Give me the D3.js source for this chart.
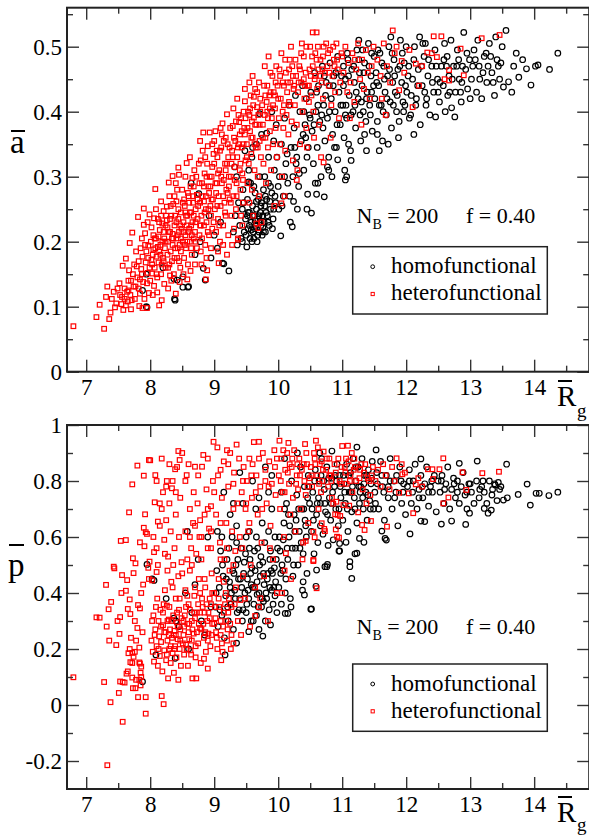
<!DOCTYPE html>
<html><head><meta charset="utf-8">
<script src="https://cdn.jsdelivr.net/npm/d3@7"></script>
<style>
body{margin:0;background:#fff}
svg{display:block}
text{font-family:"Liberation Serif","Tinos","Times New Roman","DejaVu Serif",serif;fill:#000}
</style>
</head><body>
<svg id="chart" width="589" height="836"></svg>
<script>
// Axis ticks
const xTicks = [7, 8, 9, 10, 11, 12, 13, 14];
const xMinorTicks = [7.5, 8.5, 9.5, 10.5, 11.5, 12.5, 13.5, 14.5];
const aTicks = [0, 0.1, 0.2, 0.3, 0.4, 0.5];
const aMinorTicks = [0.05, 0.15, 0.25, 0.35, 0.45, 0.55];
const pTicks = [-0.2, 0, 0.2, 0.4, 0.6, 0.8, 1];
const pMinorTicks = [-0.1, 0.1, 0.3, 0.5, 0.7, 0.9];
const seriesNames = ["homofunctional", "heterofunctional"];
const runLabel = {nb: "200", f: "0.40"};

// Top panel: mean a versus mean Rg, homofunctional runs
const homoA = [
[7.94,.100],[7.95,.099],[8.39,.110],[8.38,.112],[8.59,.130],[8.51,.130],[8.51,.146],[8.37,.143],[7.94,.150],[7.88,.125],[8.60,.131],[8.42,.141],[8.86,.141],[9.23,.155],[9.13,.167],[9.15,.166],[8.83,.159],[8.64,.290],[8.70,.180],[8.78,.200],[8.95,.175],[9.00,.210],[9.05,.190],[8.20,.160],[8.92,.240],[9.10,.230],
[9.30,.215],[9.33,.240],[9.36,.195],[9.38,.260],[9.40,.225],[9.42,.205],[9.44,.250],[9.45,.280],[9.47,.215],[9.49,.235],[9.51,.192],[9.52,.265],[9.53,.220],[9.55,.245],[9.56,.205],[9.57,.290],[9.58,.230],[9.60,.255],[9.61,.215],[9.62,.205],[9.63,.240],[9.64,.275],[9.65,.225],[9.66,.250],[9.67,.200],[9.68,.235],[9.69,.265],[9.70,.215],[9.71,.300],[9.72,.245],[9.73,.225],[9.74,.260],[9.75,.210],[9.76,.240],[9.77,.280],[9.78,.230],[9.79,.255],[9.80,.215],[9.82,.265],[9.83,.240],[9.85,.290],[9.86,.225],[9.88,.250],[9.90,.275],[9.92,.235],[9.94,.310],[9.96,.260],[9.98,.330],[9.54,.310],[9.59,.330],[9.48,.340],[9.35,.300],[9.66,.350],[9.74,.365],
[8.76,.274],[9.32,.315],[9.54,.292],[9.71,.397],[9.82,.367],[9.90,.400],[9.97,.380],[9.60,.345],[9.85,.330],[9.93,.355],
[10.04,.209],[10.22,.223],[10.19,.230],[10.52,.244],[10.45,.250],[10.24,.262],[10.46,.273],[10.60,.273],[10.72,.269],[10.62,.290],[10.79,.310],[10.77,.315],[11.04,.310],[10.93,.326],[11.07,.300],[11.05,.295],
[10.02,.300],[10.05,.350],[10.08,.270],[10.10,.390],[10.12,.320],[10.15,.290],[10.17,.410],[10.20,.345],[10.23,.300],[10.25,.375],[10.27,.425],[10.29,.330],[10.32,.285],[10.34,.400],[10.36,.355],[10.38,.440],[10.40,.310],[10.42,.380],[10.44,.420],[10.47,.345],[10.49,.395],[10.06,.255],[10.30,.250],
[10.51,.430],[10.53,.370],[10.55,.320],[10.57,.460],[10.59,.400],[10.61,.345],[10.63,.440],[10.65,.385],[10.67,.300],[10.69,.470],[10.71,.410],[10.73,.355],[10.75,.445],[10.77,.390],[10.79,.330],[10.81,.475],[10.83,.420],[10.85,.365],[10.87,.455],[10.89,.400],[10.91,.345],[10.93,.485],[10.95,.430],[10.97,.380],[10.99,.455],[10.58,.290],[10.84,.300],
[11.01,.410],[11.03,.360],[11.05,.450],[11.07,.390],[11.09,.480],[11.11,.425],[11.13,.340],[11.15,.465],[11.17,.400],[11.19,.445],[11.21,.375],[11.23,.495],[11.25,.420],[11.27,.460],[11.29,.355],[11.31,.440],[11.33,.400],[11.35,.475],[11.37,.385],[11.39,.430],[11.41,.505],[11.43,.410],[11.45,.455],[11.47,.370],[11.49,.440],[11.14,.325],[11.38,.340],[11.46,.490],[11.02,.470],[11.26,.510],
[11.51,.420],[11.53,.460],[11.55,.385],[11.57,.440],[11.59,.490],[11.61,.410],[11.63,.355],[11.65,.470],[11.67,.430],[11.69,.395],[11.71,.455],[11.73,.500],[11.75,.415],[11.77,.375],[11.79,.445],[11.81,.480],[11.83,.430],[11.85,.400],[11.87,.465],[11.89,.385],[11.91,.510],[11.93,.445],[11.95,.415],[11.97,.475],[11.99,.440],[11.58,.340],[11.72,.350],[11.88,.360],
[12.01,.430],[12.04,.470],[12.07,.395],[12.10,.450],[12.13,.500],[12.16,.420],[12.19,.465],[12.22,.380],[12.25,.440],[12.28,.485],[12.31,.410],[12.34,.455],[12.37,.395],[12.40,.470],[12.43,.430],[12.46,.392],[12.49,.450],[12.12,.365],[12.30,.505],[12.21,.515],[12.05,.390],
[12.52,.415],[12.55,.470],[12.58,.440],[12.61,.400],[12.64,.485],[12.67,.455],[12.71,.406],[12.74,.470],[12.77,.430],[12.80,.495],[12.83,.450],[12.86,.415],[12.90,.522],[12.93,.465],[12.96,.435],[12.99,.480],[12.60,.505],[12.76,.392],[12.88,.470],[12.70,.510],
[13.02,.450],[13.06,.495],[13.10,.430],[13.14,.470],[13.18,.420],[13.22,.485],[13.26,.445],[13.30,.505],[13.34,.460],[13.38,.425],[13.42,.480],[13.46,.450],[13.50,.500],[13.12,.510],[13.28,.470],[13.40,.515],[13.52,.438],[13.56,.525],[13.60,.446],
[13.76,.453],[13.88,.466],[13.95,.441],[14.02,.470],[14.06,.472],[14.24,.465],[14.37,.490],[13.68,.470],[13.72,.490],[13.82,.480],[13.65,.430],
[11.02,.440],[11.06,.410],[11.10,.455],[11.14,.395],[11.18,.470],[11.22,.430],[11.26,.480],[11.30,.415],[11.34,.460],[11.38,.420],[11.42,.470],[11.46,.430],[11.50,.485],[11.54,.445],[11.58,.410],[11.62,.475],[11.66,.450],[11.70,.420],[11.74,.465],[11.78,.490],[11.82,.455],[11.86,.425],[11.90,.470],[11.94,.490],[11.98,.410],[12.03,.455],[12.08,.425],[12.12,.480],[12.18,.440],[12.24,.470],[12.29,.430],[12.35,.480],[12.41,.445],[12.47,.470],[12.53,.445],[12.59,.480],[12.65,.425],[12.72,.450],[12.79,.470],[12.87,.445],[12.95,.490],[13.04,.470],[13.15,.450],[13.25,.490],[13.36,.445],
[9.58,.218],[9.64,.232],[9.70,.240],[9.76,.222],[9.81,.245],[9.87,.262],[9.93,.250],[9.52,.240],[9.46,.260],[9.62,.285],[9.79,.300],[10.00,.285],[10.14,.335],[10.26,.345],[10.39,.365],[10.50,.390],[10.62,.410],[10.74,.425],[10.86,.440],[10.98,.410],[10.70,.375],[10.45,.330],[10.33,.305],[10.18,.270],[10.88,.345],[11.10,.350],[11.35,.365],[11.55,.365],
[9.44,.200],[9.50,.210],[9.55,.225],[9.59,.200],[9.63,.220],[9.68,.210],[9.72,.230],[9.77,.215],[9.84,.230],[9.91,.220],[9.53,.245],[9.60,.240],[9.66,.262],[9.73,.255],[9.80,.270],[9.88,.285],[9.95,.270],[10.01,.250],[10.10,.300],[10.28,.320],[10.43,.360],[10.56,.380],[10.68,.395],[10.80,.400],[10.92,.380],[11.05,.395],[11.20,.410],[11.28,.395],[11.44,.395],[11.64,.400],[11.80,.410],[11.96,.400],[12.15,.410],[12.32,.420],[12.50,.430],[12.68,.430],[12.85,.430],[13.00,.420],[13.20,.460],[13.44,.470],[11.08,.490],[11.32,.495],[11.56,.495],[11.76,.515],[12.00,.500],[12.26,.505],[12.45,.495],[12.63,.470],[12.82,.480],[13.08,.480],[13.32,.485],[13.48,.475],[10.40,.400],[10.60,.430],[10.80,.440],[10.90,.460],[10.72,.455]
];

// Top panel: heterofunctional runs
const heteroA = [
[6.80,.070],[7.16,.084],[7.28,.066],[7.36,.081],[7.21,.103],[7.33,.131],[7.38,.091],[7.31,.115],[7.43,.123],[7.47,.105],[7.45,.099],[7.40,.112],[7.49,.128],
[7.52,.136],[7.56,.115],[7.58,.095],[7.64,.123],[7.57,.163],[7.62,.174],[7.68,.198],[7.72,.214],[7.67,.156],[7.71,.110],[7.55,.104],[7.60,.128],[7.66,.140],[7.70,.096],[7.62,.102],[7.74,.131],[7.53,.118],[7.69,.118],[7.73,.150],[7.65,.108],
[7.77,.131],[7.79,.162],[7.81,.238],[7.90,.251],[7.92,.213],[7.97,.194],[7.99,.242],[7.83,.101],[7.95,.098],[7.88,.177],[7.95,.136],[7.78,.185],[7.80,.145],[7.84,.120],[7.86,.158],[7.87,.205],[7.89,.138],[7.91,.112],[7.93,.168],[7.96,.152],[7.98,.121],[7.82,.170],[7.85,.190],[7.94,.185],[7.99,.160],[7.76,.112],[7.88,.098],[7.97,.175],[7.90,.226],[7.84,.142],
[8.06,.236],[8.08,.281],[8.03,.151],[8.10,.177],[8.15,.218],[8.04,.118],[8.18,.110],[8.01,.200],[8.02,.172],[8.05,.188],[8.07,.160],[8.09,.205],[8.11,.145],[8.12,.192],[8.13,.168],[8.14,.230],[8.16,.180],[8.17,.150],[8.19,.200],[8.20,.175],[8.21,.215],[8.22,.135],[8.23,.190],[8.24,.160],[8.11,.122],[8.06,.132],[8.14,.102],[8.21,.247],[8.17,.262],[8.02,.222],[8.09,.250],[8.24,.225],[8.13,.208],[8.19,.228],[8.04,.180],[8.16,.195],
[8.26,.254],[8.26,.233],[8.29,.291],[8.35,.301],[8.40,.290],[8.44,.314],[8.45,.303],[8.27,.180],[8.28,.200],[8.30,.165],[8.31,.215],[8.32,.185],[8.33,.240],[8.34,.170],[8.36,.205],[8.37,.150],[8.38,.225],[8.39,.190],[8.41,.262],[8.42,.175],[8.43,.210],[8.44,.235],[8.46,.195],[8.47,.160],[8.48,.245],[8.49,.220],[8.28,.128],[8.33,.140],[8.40,.120],[8.46,.138],[8.30,.270],[8.36,.258],[8.42,.280],[8.27,.222],[8.35,.212],[8.43,.190],[8.48,.205],[8.39,.240],[8.31,.148],[8.45,.170],
[8.50,.280],[8.57,.321],[8.69,.310],[8.51,.200],[8.52,.230],[8.53,.175],[8.54,.255],[8.55,.210],[8.56,.190],[8.58,.240],[8.59,.165],[8.60,.270],[8.61,.220],[8.62,.200],[8.63,.285],[8.64,.245],[8.65,.180],[8.66,.230],[8.67,.260],[8.68,.205],[8.70,.215],[8.71,.250],[8.72,.300],[8.73,.190],[8.74,.235],[8.52,.150],[8.58,.142],[8.63,.155],[8.70,.165],[8.55,.300],[8.62,.330],[8.66,.298],[8.53,.265],[8.60,.215],[8.67,.270],[8.73,.272],[8.57,.225],[8.64,.190],
[8.76,.320],[8.82,.340],[8.83,.368],[8.90,.347],[8.93,.368],[8.77,.210],[8.78,.260],[8.79,.185],[8.80,.240],[8.81,.290],[8.84,.225],[8.85,.305],[8.86,.195],[8.87,.270],[8.88,.230],[8.89,.320],[8.91,.250],[8.92,.210],[8.94,.285],[8.95,.240],[8.96,.300],[8.97,.220],[8.98,.265],[8.99,.335],[8.80,.165],[8.88,.175],[8.95,.190],[8.78,.355],[8.86,.330],[8.84,.262],[8.92,.275],[8.97,.315],
[9.02,.370],[9.12,.365],[9.13,.382],[9.20,.396],[9.01,.250],[9.03,.215],[9.04,.290],[9.05,.330],[9.06,.235],[9.07,.270],[9.08,.310],[9.09,.200],[9.10,.255],[9.11,.345],[9.14,.225],[9.15,.295],[9.16,.260],[9.17,.320],[9.18,.240],[9.19,.280],[9.21,.350],[9.22,.210],[9.23,.300],[9.24,.265],[9.06,.185],[9.14,.195],[9.20,.180],[9.10,.375],[9.18,.360],[9.04,.340],[9.22,.330],
[9.29,.378],[9.38,.395],[9.46,.400],[9.39,.384],[9.48,.416],[9.26,.300],[9.27,.240],[9.28,.340],[9.30,.270],[9.31,.220],[9.32,.315],[9.33,.355],[9.34,.250],[9.35,.290],[9.36,.330],[9.37,.205],[9.40,.365],[9.41,.280],[9.42,.240],[9.43,.345],[9.44,.305],[9.45,.260],[9.47,.375],[9.49,.325],[9.30,.405],[9.36,.420],[9.42,.390],[9.28,.195],[9.44,.225],
[9.62,.391],[9.67,.407],[9.51,.350],[9.52,.290],[9.53,.400],[9.54,.320],[9.55,.260],[9.56,.370],[9.57,.425],[9.58,.335],[9.59,.280],[9.60,.360],[9.61,.240],[9.63,.310],[9.64,.435],[9.65,.345],[9.66,.380],[9.68,.300],[9.69,.395],[9.70,.270],[9.71,.355],[9.72,.420],[9.73,.330],[9.74,.230],[9.55,.445],[9.60,.455],[9.70,.445],[9.48,.435],[9.62,.423],
[9.82,.415],[9.76,.380],[9.77,.320],[9.78,.440],[9.80,.360],[9.81,.290],[9.83,.400],[9.84,.345],[9.86,.425],[9.87,.370],[9.88,.460],[9.89,.310],[9.90,.390],[9.92,.350],[9.93,.430],[9.94,.255],[9.95,.405],[9.96,.375],[9.97,.470],[9.98,.330],[9.79,.470],[9.85,.485],
[10.02,.465],[10.18,.480],[10.20,.500],[10.01,.390],[10.03,.350],[10.04,.420],[10.06,.300],[10.07,.445],[10.08,.375],[10.09,.410],[10.11,.340],[10.12,.460],[10.13,.395],[10.14,.430],[10.16,.365],[10.17,.415],[10.19,.445],[10.21,.385],[10.22,.470],[10.23,.325],[10.24,.435],[10.05,.490],[10.10,.270],
[10.50,.500],[10.26,.410],[10.28,.455],[10.29,.380],[10.31,.430],[10.33,.470],[10.34,.350],[10.36,.445],[10.38,.400],[10.40,.485],[10.41,.420],[10.43,.460],[10.44,.375],[10.46,.440],[10.48,.415],[10.49,.465],[10.30,.310],[10.37,.505],[10.45,.345],
[10.60,.522],[10.52,.425],[10.54,.470],[10.55,.400],[10.57,.450],[10.58,.490],[10.61,.435],[10.63,.465],[10.64,.380],[10.66,.480],[10.68,.445],[10.70,.420],[10.71,.500],[10.73,.460],[10.56,.360],[10.67,.330],[10.54,.522],
[10.77,.470],[10.79,.440],[10.81,.495],[10.83,.410],[10.85,.455],[10.87,.480],[10.89,.430],[10.91,.505],[10.93,.465],[10.95,.390],[10.97,.445],[10.99,.490],[10.82,.360],
[11.02,.460],[11.05,.500],[11.08,.430],[11.10,.475],[11.13,.445],[11.16,.490],[11.19,.415],[11.22,.465],[11.25,.505],[11.28,.450],[11.31,.480],[11.34,.435],[11.37,.495],[11.40,.460],[11.43,.420],[11.46,.470],[11.49,.500],[11.12,.390],[11.30,.380],
[11.79,.525],[11.85,.500],[11.93,.478],[11.89,.433],[11.55,.480],[11.60,.455],[11.65,.505],[11.70,.470],[11.75,.445],[11.82,.490],[11.97,.460],[11.62,.420],[11.68,.395],
[12.10,.407],[12.15,.474],[12.43,.516],[12.55,.516],[12.40,.490],[12.48,.484],[12.33,.491],[12.67,.464],[12.60,.450],[12.67,.448],[12.90,.456],[12.85,.497],[13.18,.513],[13.46,.518],[12.05,.495],[12.25,.470],[12.20,.440],
[10.71,.322],[10.29,.295],[10.05,.259],[9.69,.221],[9.66,.228],[9.37,.203],[9.07,.167],[8.89,.156],[8.87,.142],
[8.05,.210],[8.08,.190],[8.12,.235],[8.18,.165],[8.22,.205],[8.25,.240],[8.29,.215],[8.32,.255],[8.35,.195],[8.38,.270],[8.41,.205],[8.44,.250],[8.47,.225],[8.51,.260],[8.54,.195],[8.56,.240],[8.59,.275],[8.62,.245],[8.65,.210],[8.68,.285],[8.71,.230],[8.74,.265],[8.77,.290],[8.79,.225],[8.82,.270],[8.85,.245],[8.88,.300],[8.91,.285],[8.94,.255],[8.97,.350],[9.00,.320],[9.03,.275],[9.06,.305],[9.09,.340],[9.12,.290],[9.15,.355],[9.18,.310],[9.21,.275],[9.24,.345],[9.27,.320],[9.31,.360],[9.34,.385],[9.37,.345],[9.40,.310],[9.43,.370],[9.46,.350],[9.49,.390],[9.52,.375],[9.56,.405],[9.59,.385],[9.63,.350],[9.67,.430],[9.71,.380],[9.75,.410],[9.79,.395],[9.83,.440],[9.87,.405],[9.91,.455],[9.95,.425],[9.99,.440],[10.03,.455],[10.07,.400],[10.11,.480],[10.15,.445],[10.19,.410],[10.23,.455],[10.27,.480],[10.32,.445],[10.36,.490],[10.40,.450],[10.44,.500],[10.48,.440],[10.53,.485],[10.58,.455],[10.62,.500],[10.66,.455],[10.70,.485],[10.75,.505],[10.80,.460],[10.86,.500],[10.92,.480],[7.70,.140],[7.75,.165],[7.82,.128],[7.87,.150],[7.92,.195],[7.96,.230],[8.00,.140],[7.60,.112],[7.66,.125],
[8.03,.165],[8.07,.205],[8.10,.150],[8.14,.185],[8.17,.240],[8.21,.170],[8.24,.200],[8.28,.160],[8.31,.235],[8.34,.205],[8.38,.175],[8.41,.230],[8.45,.215],[8.48,.185],[8.52,.215],[8.55,.245],[8.58,.200],[8.61,.260],[8.64,.225],[8.68,.240],[8.71,.200],[8.75,.255],[8.78,.225],[8.81,.205],[8.84,.285],[8.87,.250],[8.90,.215],[8.93,.300],[8.96,.265],[8.99,.230],[9.02,.290],[9.05,.255],[9.08,.225],[9.11,.300],[9.14,.270],[9.17,.245],[9.20,.320],[9.23,.285],[9.26,.260],[9.29,.330],[9.32,.295],[9.35,.270],[9.38,.350],[9.41,.320],[9.45,.295],[9.48,.365],[9.51,.330],[9.55,.395],[9.58,.360],[9.61,.410],[9.64,.380],[9.68,.345],[9.72,.400],[9.76,.360],[9.80,.425],[9.84,.390],[9.88,.430],[9.92,.410],[9.96,.445],[10.00,.420],[10.09,.440],[10.17,.465],[10.25,.440],[10.34,.465],[10.42,.440],[10.51,.455],[10.60,.480],[10.69,.465],[10.78,.490],[10.88,.470],[11.00,.485],[11.20,.480],[8.79,.325],[9.00,.355],[9.25,.375]
];

// Bottom panel: mean p versus mean Rg, homofunctional runs
const homoP = [
[7.88,.083],[7.95,.502],[8.03,.450],[8.06,.445],[8.09,.179],[8.37,.310],[8.40,.300],[8.39,.167],[8.25,.380],[8.45,.280],[8.55,.400],[8.60,.200],[8.70,.430],[8.65,.330],[8.80,.300],[8.85,.250],[8.75,.520],[8.90,.600],[8.95,.350],[8.58,.620],
[9.17,.179],[9.35,.221],[9.54,.262],[9.76,.246],[9.88,.286],[10.11,.327],[10.15,.327],[10.52,.343],[10.51,.342],[10.59,.424],[10.76,.494],[10.73,.494],[10.96,.550],[11.15,.452],[11.12,.512],[11.12,.494],[11.20,.540],[11.23,.542],[10.77,.502],[10.60,.482],[10.39,.440],[10.38,.410],[10.41,.393],[10.96,.577],[10.95,.550],[11.06,.581],[11.27,.595],[11.34,.581],[11.67,.595],[11.69,.589],[11.62,.621],[12.06,.611],[12.29,.655],[12.23,.657],[12.55,.646],[12.71,.657],[12.93,.645],[12.99,.685],[13.28,.685],[13.33,.696],[13.22,.702],[13.52,.732],[13.58,.740],[13.75,.752],[13.89,.789],[13.94,.714],[14.03,.756],[14.08,.756],[14.23,.748],[14.37,.760],[13.57,.860],[13.11,.871],[12.83,.863],[12.23,.879],[11.53,.911],[11.23,.921],[10.84,.907],
[9.02,.350],[9.04,.480],[9.06,.280],[9.08,.420],[9.10,.550],[9.12,.320],[9.14,.460],[9.16,.240],[9.18,.390],[9.20,.520],[9.22,.300],[9.24,.440],[9.26,.360],[9.28,.600],[9.30,.270],[9.32,.410],[9.34,.500],[9.36,.330],[9.38,.450],[9.40,.380],[9.42,.560],[9.44,.300],[9.46,.470],[9.48,.400],[9.05,.620],[9.25,.680],[9.45,.720],[9.15,.760],[9.35,.640],[9.40,.830],
[9.50,.330],[9.52,.450],[9.54,.380],[9.56,.520],[9.58,.300],[9.60,.420],[9.62,.360],[9.64,.480],[9.66,.320],[9.68,.560],[9.70,.400],[9.72,.460],[9.74,.350],[9.76,.510],[9.78,.430],[9.80,.300],[9.82,.380],[9.84,.470],[9.86,.340],[9.88,.550],[9.90,.410],[9.92,.360],[9.94,.490],[9.96,.440],[9.98,.330],[9.55,.620],[9.65,.700],[9.75,.650],[9.85,.760],[9.95,.600],[9.60,.800],[9.80,.850],[9.70,.270],[9.90,.700],[9.58,.430],[9.67,.395],[9.77,.370],[9.87,.420],
[10.01,.420],[10.03,.550],[10.05,.360],[10.07,.480],[10.09,.650],[10.11,.400],[10.13,.720],[10.15,.520],[10.17,.600],[10.19,.380],[10.21,.800],[10.23,.460],[10.25,.680],[10.27,.560],[10.29,.750],[10.31,.500],[10.33,.620],[10.35,.850],[10.37,.700],[10.39,.540],[10.41,.780],[10.43,.640],[10.45,.470],[10.47,.820],[10.49,.720],[10.10,.880],[10.30,.900],[10.20,.350],
[10.52,.620],[10.54,.760],[10.56,.540],[10.58,.840],[10.60,.680],[10.62,.580],[10.64,.800],[10.66,.720],[10.68,.880],[10.70,.610],[10.72,.770],[10.74,.690],[10.76,.850],[10.78,.570],[10.80,.740],[10.82,.660],[10.84,.810],[10.86,.590],[10.88,.780],[10.90,.700],[10.92,.860],[10.94,.640],[10.96,.820],[10.98,.740],[10.65,.900],
[11.01,.660],[11.03,.790],[11.05,.720],[11.07,.860],[11.09,.620],[11.11,.760],[11.13,.830],[11.15,.690],[11.17,.880],[11.19,.740],[11.21,.800],[11.23,.650],[11.25,.850],[11.27,.720],[11.29,.780],[11.31,.880],[11.33,.700],[11.35,.820],[11.37,.760],[11.39,.660],[11.41,.840],[11.43,.730],[11.45,.790],[11.47,.870],[11.49,.700],
[11.51,.760],[11.54,.830],[11.57,.700],[11.60,.870],[11.63,.780],[11.66,.660],[11.69,.820],[11.72,.740],[11.75,.880],[11.78,.700],[11.81,.800],[11.84,.760],[11.87,.640],[11.90,.850],[11.93,.720],[11.96,.790],[11.99,.680],
[12.02,.780],[12.05,.840],[12.08,.720],[12.11,.800],[12.14,.860],[12.17,.700],[12.20,.770],[12.23,.820],[12.26,.740],[12.29,.790],[12.32,.850],[12.35,.710],[12.38,.780],[12.41,.760],[12.44,.820],[12.47,.690],[12.50,.800],
[12.53,.760],[12.56,.820],[12.59,.720],[12.62,.790],[12.65,.850],[12.68,.700],[12.71,.770],[12.74,.810],[12.77,.740],[12.80,.800],[12.83,.720],[12.86,.780],[12.89,.830],[12.92,.750],[12.95,.700],[12.98,.790],
[13.02,.760],[13.06,.720],[13.10,.800],[13.14,.740],[13.18,.780],[13.22,.760],[13.26,.720],[13.30,.800],[13.34,.750],[13.38,.790],[13.42,.730],[13.46,.770],[13.39,.786],[13.44,.795],[13.48,.780],
[9.21,.350],[9.25,.420],[9.29,.480],[9.33,.380],[9.37,.520],[9.41,.450],[9.45,.340],[9.49,.540],[9.53,.410],[9.57,.470],[9.61,.300],[9.63,.550],[9.67,.440],[9.71,.500],[9.75,.380],[9.79,.580],[9.83,.450],[9.87,.520],[9.91,.470],[9.95,.390],[9.99,.560],[10.04,.470],[10.08,.590],[10.12,.450],[10.16,.680],[10.22,.560],[10.26,.620],[10.32,.700],[10.36,.580],[10.42,.660],[10.46,.740],[10.53,.700],[10.57,.800],[10.63,.740],[10.67,.820],[10.73,.720],[10.79,.810],[10.85,.760],[10.91,.800],[10.97,.780],[11.04,.760],[11.10,.820],[11.16,.780],[11.22,.850],[11.28,.760],[11.34,.790],[11.40,.750],[11.46,.810],[11.55,.790],[11.65,.760],[11.75,.800],[11.85,.820],[11.95,.760],[12.10,.760],[12.25,.780],[12.40,.800],[12.60,.770],[12.80,.760],[13.00,.790],[13.20,.800],[9.12,.600],[9.30,.720],[9.50,.600],[9.70,.740],[9.90,.820],[10.05,.760],
[9.03,.400],[9.09,.340],[9.13,.500],[9.19,.450],[9.23,.560],[9.27,.400],[9.31,.470],[9.35,.580],[9.39,.340],[9.43,.420],[9.47,.510],[9.51,.360],[9.55,.560],[9.59,.490],[9.63,.420],[9.66,.600],[9.69,.350],[9.73,.530],[9.77,.470],[9.81,.400],[9.85,.620],[9.89,.480],[9.93,.420],[9.97,.520],[10.02,.600],[10.06,.500],[10.10,.700],[10.14,.560],[10.18,.640],[10.24,.500],[10.28,.660],[10.34,.560],[10.40,.700],[10.44,.600],[10.48,.780],[10.55,.660],[10.61,.720],[10.66,.640],[10.71,.800],[10.77,.680],[10.83,.720],[10.89,.820],[10.95,.700],[11.02,.820],[11.08,.700],[11.14,.760],[11.20,.700],[11.26,.780],[11.32,.740],[11.38,.820],[11.44,.700],[11.52,.720],[11.62,.820],[11.72,.780],[11.82,.740],[11.92,.800],[12.05,.800],[12.20,.740],[12.35,.760],[12.55,.800],[12.75,.790],[12.95,.760],[13.15,.770],[13.35,.770]
];

// Bottom panel: heterofunctional runs
const heteroP = [
[6.80,.099],[7.16,.313],[7.21,.312],[7.28,.082],[7.33,-.215],[7.31,.429],[7.38,.010],[7.36,.230],[7.32,.280],[7.39,.368],[7.35,.342],[7.43,.494],[7.44,.488],[7.51,.043],[7.53,.084],[7.57,.082],[7.60,.080],[7.57,-.060],[7.52,.254],[7.47,.214],[7.49,.300],[7.53,.314],[7.54,.586],[7.62,.589],[7.56,.464],[7.64,.446],[7.62,.408],[7.55,.400],[7.67,.688],[7.72,.788],[7.80,.855],[7.90,.819],[8.00,.874],[8.08,.821],[7.92,.681],[8.07,.724],[8.12,.655],[7.90,.633],[7.93,.617],[7.95,.611],[7.84,.581],[7.91,.567],[8.06,.546],[7.73,.524],[7.77,.506],[7.74,.471],[7.68,.377],[7.69,.325],[7.65,.343],[7.81,.357],[7.84,.345],
[7.68,.200],[7.66,.185],[7.72,.186],[7.74,.172],[7.76,.190],[7.69,.153],[7.72,.150],[7.83,.152],[7.86,.137],[7.84,.148],[7.65,.120],[7.63,.112],[7.72,.098],[7.78,.090],[7.83,.090],[7.86,.100],[7.85,.115],[7.81,.028],[7.93,.028],[7.93,-.031],[7.73,.060],[7.77,.060],[7.85,.070],[7.70,.240],[7.78,.230],[7.80,.275],[7.76,.300],[7.88,.260],[7.83,.205],[7.89,.430],[7.86,.400],[7.98,.450],[8.03,.445],[8.10,.475],[7.99,.512],[7.97,.490],
[8.02,.230],[8.04,.190],[8.05,.320],[8.06,.155],[8.08,.270],[8.10,.210],[8.11,.380],[8.12,.140],[8.13,.300],[8.14,.245],[8.15,.175],[8.16,.340],[8.17,.225],[8.18,.032],[8.21,.003],[8.19,.120],[8.20,.285],[8.22,.195],[8.23,.410],[8.24,.260],[8.25,.160],[8.26,.355],[8.27,.230],[8.28,.095],[8.29,.305],[8.30,.200],[8.31,.270],[8.32,.150],[8.33,.440],[8.34,.240],[8.35,.185],[8.36,.320],[8.37,.115],[8.38,.265],[8.39,.210],[8.40,.380],[8.41,.170],[8.42,.295],[8.43,.235],[8.44,.090],[8.45,.340],[8.46,.200],[8.47,.270],[8.48,.140],[8.49,.310],
[8.05,.600],[8.10,.560],[8.15,.640],[8.18,.700],[8.20,.760],[8.22,.590],[8.25,.660],[8.28,.530],[8.30,.720],[8.32,.620],[8.35,.800],[8.38,.560],[8.40,.680],[8.42,.850],[8.45,.600],[8.47,.740],[8.49,.510],[8.12,.500],[8.27,.480],[8.44,.460],[8.36,.500],[8.23,.540],[8.18,.880],[7.98,.875],[8.26,.800],[8.34,.774],[8.44,.907],[8.46,.875],[8.39,.842],
[8.52,.250],[8.53,.180],[8.54,.320],[8.55,.410],[8.56,.215],[8.57,.821],[8.58,.290],[8.59,.140],[8.60,.360],[8.61,.235],[8.62,.480],[8.63,.195],[8.64,.560],[8.65,.300],[8.66,.095],[8.67,.650],[8.68,.255],[8.69,.390],[8.70,.851],[8.71,.170],[8.72,.095],[8.73,.330],[8.74,.720],[8.75,.220],[8.76,.450],[8.77,.600],[8.78,.275],[8.79,.150],[8.80,.520],[8.81,.851],[8.82,.350],[8.83,.893],[8.84,.240],[8.85,.680],[8.86,.420],[8.87,.190],[8.88,.770],[8.89,.300],[8.90,.560],[8.91,.255],[8.92,.630],[8.93,.380],[8.94,.210],[8.95,.710],[8.96,.470],[8.97,.290],[8.98,.800],[8.99,.940],[8.55,.620],[8.62,.700],[8.68,.760],[8.58,.520],[8.72,.540],[8.78,.400],[8.84,.165],[8.90,.130],
[8.52,.300],[8.60,.260],[8.65,.230],[8.70,.310],[8.75,.360],[8.80,.270],[8.85,.330],[8.90,.230],[8.95,.360],[9.00,.290],[9.05,.200],[9.10,.250],[9.15,.330],[9.20,.230],[9.25,.290],[8.58,.390],[8.70,.420],[8.85,.450],[9.00,.400],[9.15,.440],[8.40,.250],[8.30,.350],[8.20,.330],
[9.01,.350],[9.03,.680],[9.04,.240],[9.06,.820],[9.07,.450],[9.09,.580],[9.10,.300],[9.12,.740],[9.13,.190],[9.15,.870],[9.16,.520],[9.18,.400],[9.19,.650],[9.21,.270],[9.22,.780],[9.24,.480],[9.25,.900],[9.27,.350],[9.28,.620],[9.30,.220],[9.31,.830],[9.33,.550],[9.34,.420],[9.36,.720],[9.37,.300],[9.39,.880],[9.40,.600],[9.42,.250],[9.43,.760],[9.45,.460],[9.46,.850],[9.48,.380],[9.49,.700],[9.05,.920],[9.20,.910],[9.35,.930],[9.11,.160],[9.26,.200],[9.44,.560],[9.41,.375],
[9.51,.800],[9.53,.620],[9.55,.880],[9.57,.500],[9.59,.740],[9.62,.939],[9.64,.420],[9.66,.820],[9.68,.680],[9.70,.350],[9.72,.780],[9.74,.580],[9.76,.900],[9.78,.460],[9.80,.840],[9.82,.720],[9.84,.300],[9.86,.870],[9.88,.640],[9.90,.790],[9.92,.520],[9.94,.910],[9.96,.750],[9.98,.400],[9.56,.280],[9.70,.940],[9.87,.560],[9.60,.860],[9.72,.381],[9.64,.318],
[10.02,.944],[10.16,.936],[10.01,.820],[10.03,.700],[10.05,.880],[10.07,.760],[10.09,.600],[10.10,.480],[10.11,.840],[10.12,.542],[10.14,.900],[10.17,.790],[10.19,.680],[10.21,.850],[10.23,.740],[10.25,.910],[10.27,.620],[10.29,.820],[10.31,.770],[10.33,.880],[10.35,.700],[10.37,.840],[10.39,.580],[10.41,.800],[10.42,.932],[10.43,.750],[10.45,.860],[10.47,.650],[10.49,.810],[10.20,.450],[10.38,.520],[10.06,.400],
[10.59,.944],[10.55,.518],[10.60,.417],[10.55,.514],[10.71,.905],[10.51,.850],[10.53,.780],[10.57,.880],[10.61,.820],[10.63,.700],[10.65,.860],[10.67,.760],[10.69,.800],[10.72,.629],[10.73,.621],[10.68,.649],[10.57,.599],[10.55,.619],[10.43,.586],[10.75,.840],[10.78,.780],[10.80,.880],[10.82,.820],[10.84,.740],[10.86,.719],[10.91,.726],[10.88,.860],[10.93,.679],[10.97,.675],[10.89,.681],[10.90,.627],[10.92,.601],[10.95,.598],[10.96,.800],[10.99,.850],[10.62,.920],
[11.00,.925],[11.09,.926],[11.02,.714],[11.11,.712],[11.25,.688],[11.45,.657],[11.35,.625],[11.31,.643],[11.04,.850],[11.07,.790],[11.10,.870],[11.13,.820],[11.16,.760],[11.19,.880],[11.22,.800],[11.28,.840],[11.32,.770],[11.36,.860],[11.40,.810],[11.44,.750],[11.48,.850],[11.15,.900],[11.38,.720],
[11.70,.637],[11.85,.881],[11.93,.860],[11.94,.824],[11.89,.758],[11.52,.800],[11.56,.840],[11.60,.780],[11.64,.860],[11.68,.820],[11.74,.770],[11.78,.850],[11.82,.800],[11.98,.830],
[12.04,.756],[12.11,.685],[12.15,.788],[12.19,.810],[12.34,.842],[12.41,.842],[12.52,.842],[12.42,.807],[12.58,.881],[12.66,.741],[12.58,.720],[12.88,.831],[12.94,.768],[13.19,.828],[13.45,.833],[12.25,.780],
[8.22,.260],[8.27,.300],[8.32,.210],[8.37,.250],[8.42,.330],[8.47,.230],[8.53,.280],[8.57,.200],[8.62,.340],[8.66,.270],[8.71,.210],[8.76,.290],[8.81,.380],[8.86,.260],[8.91,.330],[8.96,.250],[9.02,.310],[9.08,.350],[9.14,.280],[9.19,.300],[9.23,.380],[8.35,.420],[8.50,.470],[8.65,.500],[8.80,.600],[8.95,.560],[9.10,.650],[9.30,.700],[9.50,.720],[9.65,.760],[9.80,.800],[9.95,.850],[10.04,.800],[10.10,.760],[10.15,.830],[10.22,.880],[10.28,.790],[10.34,.820],[10.40,.860],[10.46,.780],[10.52,.820],[10.58,.860],[10.64,.790],[10.70,.840],[10.76,.880],[10.83,.800],[10.90,.830],[10.98,.790],[11.05,.830],[11.12,.800],[11.20,.850],[11.27,.810],[11.34,.830],[11.42,.800],[8.10,.800],[8.30,.860],[8.50,.900],[8.70,.640],[8.90,.700],[9.20,.560],
[8.03,.300],[8.07,.250],[8.09,.350],[8.13,.200],[8.17,.280],[8.21,.360],[8.26,.180],[8.29,.250],[8.33,.300],[8.38,.200],[8.43,.280],[8.46,.380],[8.51,.220],[8.56,.350],[8.61,.290],[8.64,.180],[8.69,.330],[8.73,.260],[8.78,.330],[8.83,.290],[8.88,.360],[8.93,.310],[8.97,.400],[9.03,.260],[9.07,.380],[9.12,.220],[9.17,.360],[9.22,.330],[9.27,.250],[9.32,.360],[8.15,.720],[8.25,.780],[8.40,.760],[8.55,.800],[8.60,.860],[8.75,.820],[8.90,.880],[9.00,.760],[9.10,.840],[9.22,.860],[9.30,.790],[9.45,.800],[9.58,.820],[9.70,.880],[9.85,.780],[9.98,.880],[10.08,.910],[10.18,.860],[10.30,.860],[10.44,.900],[10.56,.900],[10.68,.870],[10.80,.820],[10.94,.880],[11.06,.880],[11.18,.840],[11.30,.860],[11.46,.820],[8.62,.600],[8.78,.660],[8.95,.620],[9.10,.520],[9.30,.500],[9.55,.650],[9.75,.700]
];

const svg = d3.select("#chart");
const plotLeft = 67, plotRight = 589.2;
const x = d3.scaleLinear().domain([6.7, 14.86]).range([plotLeft, plotRight]);
const fmtY = v => String(+v.toFixed(2));
const serif = '"Liberation Serif","Tinos","Times New Roman","DejaVu Serif",serif';

function drawPanel(cfg) {
  const y = d3.scaleLinear().domain(cfg.domain).range([cfg.bottom, cfg.top]);
  const g = svg.append("g");

  // points: homofunctional circles, then heterofunctional squares
  g.append("g").selectAll("circle").data(cfg.homo).join("circle")
    .attr("cx", d => x(d[0])).attr("cy", d => y(d[1])).attr("r", 2.8)
    .attr("fill", "none").attr("stroke", "#000").attr("stroke-width", 1.2);
  g.append("g").selectAll("rect").data(cfg.hetero).join("rect")
    .attr("x", d => x(d[0]) - 2.3).attr("y", d => y(d[1]) - 2.3)
    .attr("width", 4.6).attr("height", 4.6)
    .attr("fill", "none").attr("stroke", "#ff0000").attr("stroke-width", 1.2);

  const axes = g.append("g");
  axes.append("g").attr("transform", `translate(0,${cfg.bottom})`)
    .call(d3.axisBottom(x).tickValues(xTicks).tickSize(-12).tickPadding(7).tickFormat(d3.format("d")));
  axes.append("g").attr("transform", `translate(0,${cfg.bottom})`)
    .call(d3.axisBottom(x).tickValues(xMinorTicks).tickSize(-6).tickFormat(""));
  axes.append("g").attr("transform", `translate(0,${cfg.top})`)
    .call(d3.axisTop(x).tickValues(xTicks).tickSize(-12).tickFormat(""));
  axes.append("g").attr("transform", `translate(0,${cfg.top})`)
    .call(d3.axisTop(x).tickValues(xMinorTicks).tickSize(-6).tickFormat(""));
  axes.append("g").attr("transform", `translate(${plotLeft},0)`)
    .call(d3.axisLeft(y).tickValues(cfg.major).tickSize(-12).tickPadding(5).tickFormat(fmtY));
  axes.append("g").attr("transform", `translate(${plotLeft},0)`)
    .call(d3.axisLeft(y).tickValues(cfg.minor).tickSize(-6).tickFormat(""));
  axes.append("g").attr("transform", `translate(${plotRight},0)`)
    .call(d3.axisRight(y).tickValues(cfg.major).tickSize(-12).tickFormat(""));
  axes.append("g").attr("transform", `translate(${plotRight},0)`)
    .call(d3.axisRight(y).tickValues(cfg.minor).tickSize(-6).tickFormat(""));
  axes.selectAll(".domain").remove();
  axes.selectAll("g").attr("font-family", serif).attr("font-size", 23);
  axes.selectAll(".tick line").attr("stroke", "#333").attr("stroke-width", 1.4);
  axes.selectAll(".tick text").attr("fill", "#000").style("font-family", serif);

  g.append("rect").attr("x", plotLeft).attr("y", cfg.top)
    .attr("width", plotRight - plotLeft).attr("height", cfg.bottom - cfg.top)
    .attr("fill", "none").attr("stroke", "#222").attr("stroke-width", 2);

  // run parameters
  const nb = g.append("text").attr("y", cfg.nbBase).attr("font-size", 22);
  nb.append("tspan").attr("x", 356.5).text("N");
  nb.append("tspan").attr("font-size", 14).attr("dy", 6).text("B");
  nb.append("tspan").attr("dy", -6).text(" = " + runLabel.nb);
  g.append("text").attr("x", 466).attr("y", cfg.nbBase).attr("font-size", 22).text("f = " + runLabel.f);

  // legend
  const lt = cfg.legendTop;
  g.append("rect").attr("x", 352.7).attr("y", lt).attr("width", 194.6).attr("height", 67.3)
    .attr("fill", "#fff").attr("stroke", "#222").attr("stroke-width", 1.5);
  g.append("circle").attr("cx", 372.7).attr("cy", lt + 20).attr("r", 1.9)
    .attr("fill", "none").attr("stroke", "#000").attr("stroke-width", 1);
  g.append("rect").attr("x", 372.7 - 1.6).attr("y", lt + 47.3 - 1.6).attr("width", 3.2).attr("height", 3.2)
    .attr("fill", "none").attr("stroke", "#ff0000").attr("stroke-width", 1);
  g.append("text").attr("x", 391).attr("y", lt + 26.6).attr("font-size", 23).text(seriesNames[0]);
  g.append("text").attr("x", 391).attr("y", lt + 53.6).attr("font-size", 23).text(seriesNames[1]);

  // axis titles with overbars
  g.append("text").attr("x", cfg.yTitle.x).attr("y", cfg.yTitle.base).attr("font-size", 33).text(cfg.yTitle.t);
  g.append("line").attr("x1", cfg.yTitle.bx1).attr("x2", cfg.yTitle.bx2)
    .attr("y1", cfg.yTitle.bar).attr("y2", cfg.yTitle.bar).attr("stroke", "#000").attr("stroke-width", 2);
  g.append("text").attr("x", 557).attr("y", cfg.rBase).attr("font-size", 29).text("R");
  g.append("text").attr("x", 577).attr("y", cfg.rBase + cfg.gDrop).attr("font-size", 19).text("g");
  g.append("line").attr("x1", 558).attr("x2", 572)
    .attr("y1", cfg.rBase - 25).attr("y2", cfg.rBase - 25).attr("stroke", "#000").attr("stroke-width", 2);
}

drawPanel({
  domain: [0, 0.56], top: 7.7, bottom: 371.7, major: aTicks, minor: aMinorTicks,
  homo: homoA, hetero: heteroA, nbBase: 223, legendTop: 246.7, rBase: 406, gDrop: 11,
  yTitle: {t: "a", x: 10, base: 153, bar: 131, bx1: 11, bx2: 25}
});
drawPanel({
  domain: [-0.3, 1], top: 425, bottom: 789, major: pTicks, minor: pMinorTicks,
  homo: homoP, hetero: heteroP, nbBase: 634, legendTop: 664, rBase: 822, gDrop: 9,
  yTitle: {t: "p", x: 8, base: 576, bar: 545, bx1: 9, bx2: 24}
});
</script>
</body></html>
